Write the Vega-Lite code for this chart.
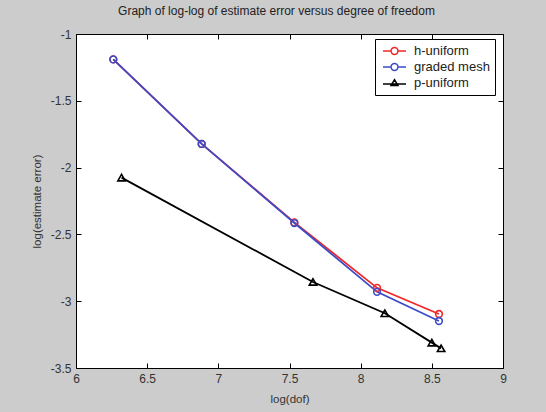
{
  "$schema": "https://vega.github.io/schema/vega-lite/v6.json",
  "width": 427,
  "height": 334,
  "autosize": {"type": "none"},
  "padding": {"left": 76, "top": 34, "right": 43, "bottom": 44},
  "background": "#cccccc",
  "title": {"text": "Graph of log-log of estimate error versus degree of freedom", "font": "Liberation Sans", "fontSize": 12, "fontWeight": "normal", "color": "#222222", "offset": 10, "dx": -13},
  "config": {
    "view": {"fill": "white", "stroke": "black", "strokeWidth": 1},
    "axis": {"grid": false, "domain": false, "tickColor": "#000000", "tickSize": -5, "tickWidth": 1, "labelFont": "Liberation Sans", "labelFontSize": 12, "labelColor": "#333333", "titleFont": "Liberation Sans", "titleFontSize": 11.5, "titleFontWeight": "normal", "titleColor": "#333333", "labelPadding": 10, "labelFlush": false, "labelExpr": "'' + datum.value"}
  },
  "data": {"values": [
    {"series": "h-uniform", "x": 6.262, "y": -1.19},
    {"series": "h-uniform", "x": 6.883, "y": -1.823},
    {"series": "h-uniform", "x": 7.534, "y": -2.41},
    {"series": "h-uniform", "x": 8.115, "y": -2.9},
    {"series": "h-uniform", "x": 8.55, "y": -3.096},
    {"series": "graded mesh", "x": 6.262, "y": -1.19},
    {"series": "graded mesh", "x": 6.883, "y": -1.823},
    {"series": "graded mesh", "x": 7.534, "y": -2.415},
    {"series": "graded mesh", "x": 8.115, "y": -2.93},
    {"series": "graded mesh", "x": 8.55, "y": -3.148},
    {"series": "p-uniform", "x": 6.32, "y": -2.075},
    {"series": "p-uniform", "x": 7.665, "y": -2.856},
    {"series": "p-uniform", "x": 8.17, "y": -3.09},
    {"series": "p-uniform", "x": 8.5, "y": -3.31},
    {"series": "p-uniform", "x": 8.565, "y": -3.353}
  ]},
  "layer": [
    {"mark": {"type": "line", "strokeWidth": 1.8},
     "encoding": {
       "x": {"field": "x", "type": "quantitative", "scale": {"domain": [6, 9], "nice": false, "zero": false}, "axis": {"orient": "bottom", "values": [6, 6.5, 7, 7.5, 8, 8.5, 9], "title": "log(dof)", "titlePadding": 9}},
       "y": {"field": "y", "type": "quantitative", "scale": {"domain": [-3.5, -1], "nice": false, "zero": false}, "axis": {"orient": "left", "values": [-3.5, -3, -2.5, -2, -1.5, -1], "title": "log(estimate error)", "titlePadding": 8}},
       "color": {"field": "series", "type": "nominal", "scale": {"domain": ["h-uniform", "graded mesh", "p-uniform"], "range": ["#f02828", "#3c4cc8", "#000000"]}},
       "detail": {"field": "series"}
     }},
    {"transform": [{"filter": "datum.series != 'p-uniform'"}],
     "mark": {"type": "point", "shape": "circle", "filled": false, "size": 45, "strokeWidth": 1.6, "opacity": 1},
     "encoding": {
       "x": {"field": "x", "type": "quantitative", "axis": null},
       "y": {"field": "y", "type": "quantitative", "axis": null},
       "color": {"field": "series", "type": "nominal"}
     }},
    {"transform": [{"filter": "datum.series == 'p-uniform'"}],
     "mark": {"type": "point", "shape": "triangle-up", "filled": false, "size": 55, "strokeWidth": 1.6, "opacity": 1},
     "encoding": {
       "x": {"field": "x", "type": "quantitative", "axis": null},
       "y": {"field": "y", "type": "quantitative", "axis": null},
       "color": {"field": "series", "type": "nominal"}
     }},
    {"transform": [{"filter": "datum.x < 0"}],
     "mark": {"type": "point", "filled": false, "opacity": 1, "strokeWidth": 1.5},
     "encoding": {
       "x": {"field": "x", "type": "quantitative", "axis": {"orient": "top", "values": [6, 6.5, 7, 7.5, 8, 8.5, 9], "labels": false, "title": null}},
       "y": {"field": "y", "type": "quantitative", "axis": {"orient": "right", "values": [-3.5, -3, -2.5, -2, -1.5, -1], "labels": false, "title": null}},
       "color": {"field": "series", "type": "nominal", "legend": {"title": null, "orient": "none", "legendX": 299, "legendY": 5, "strokeColor": "#000000", "fillColor": "white", "padding": 5, "symbolSize": 144, "symbolStrokeWidth": 1.5, "symbolFillColor": "transparent", "symbolOpacity": 1, "labelFont": "Liberation Sans", "labelFontSize": 13, "labelColor": "#222222", "labelOffset": 20, "rowPadding": 2}},
       "shape": {"field": "series", "type": "nominal", "scale": {"domain": ["h-uniform", "graded mesh", "p-uniform"], "range": ["M-0.67,0H0.67M1.83,0H3.17M1.83,0A0.58,0.58 0 1,1 0.67,0A0.58,0.58 0 1,1 1.83,0", "M-0.67,0H0.67M1.83,0H3.17M1.83,0A0.58,0.58 0 1,1 0.67,0A0.58,0.58 0 1,1 1.83,0", "M-0.67,0.15H3.17M1.25,-0.55L1.83,0.42L0.67,0.42Z"]}, "legend": {"title": null}}
     }}
  ],
  "resolve": {"axis": {"x": "independent", "y": "independent"}}
}
